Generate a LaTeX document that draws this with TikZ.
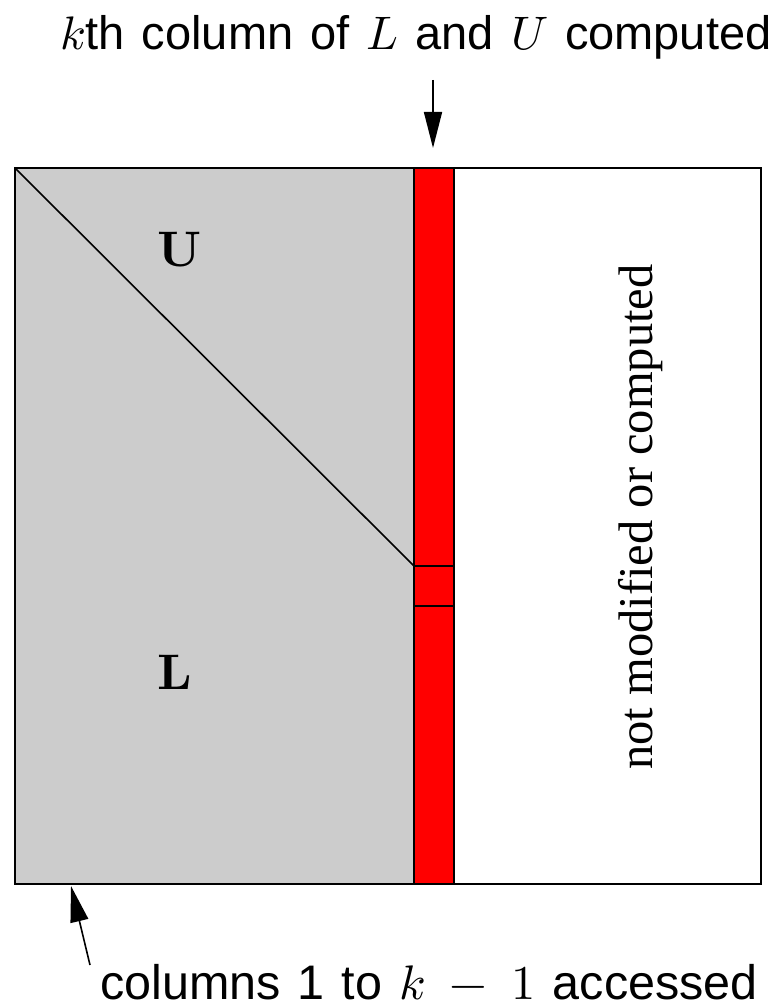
\documentclass[tikz,border=0pt]{standalone}
\usepackage{fontspec}
\usepackage{unicode-math}
\setmainfont{Liberation Sans}
\setmathfont{Latin Modern Math}
\newfontfamily\timesfont{Liberation Serif}
\usetikzlibrary{arrows.meta}
\definecolor{lightgray}{HTML}{CCCCCC}
\newcommand\myspacing{\spaceskip=17pt\relax}
\begin{document}
\begin{tikzpicture}[x=1pt,y=-1pt,line width=1.6pt,
  arr/.style={-{Triangle[length=36pt,width=18pt]},line width=1.6pt},
  bigtext/.style={font=\fontsize{47}{50}\selectfont},
  bottext/.style={font=\fontsize{48.5}{50}\selectfont,inner sep=1pt},
  matlabel/.style={font=\fontsize{50}{55}\selectfont}]
\useasboundingbox (0,0) rectangle (775,1008);
\fill[lightgray] (15,168) rectangle (414,884);
\fill[red] (414,168) rectangle (454,884);
\draw (15,168) rectangle (761,884);
\draw (414,168) -- (414,884);
\draw (454,168) -- (454,884);
\draw (15,168) -- (414,566);
\draw (414,566) -- (454,566);
\draw (414,606) -- (454,606);
\node[matlabel] (U) at (180,250) {$\symbf{U}$};
\node[matlabel] (L) at (175,672) {$\symbf{L}$};
\node[rotate=90,font=\timesfont\fontsize{48.5}{50}\selectfont] (nm) at (641,517) {not modified or computed};
\node[bigtext,anchor=base] (top) at (416,50) {\myspacing$k$th column of $L$ and $U$ computed};
\node[bottext,anchor=base] (bot) at (429,999) {\myspacing columns 1 to $\medmuskip=9mu k-1$ accessed};
\coordinate (topStart) at (433,80);
\coordinate (topTip) at (433,148);
\coordinate (botStart) at (90,965);
\coordinate (botTip) at (71,886);
\draw[arr] (topStart) -- (topTip);
\draw[arr] (botStart) -- (botTip);
\end{tikzpicture}
\end{document}
